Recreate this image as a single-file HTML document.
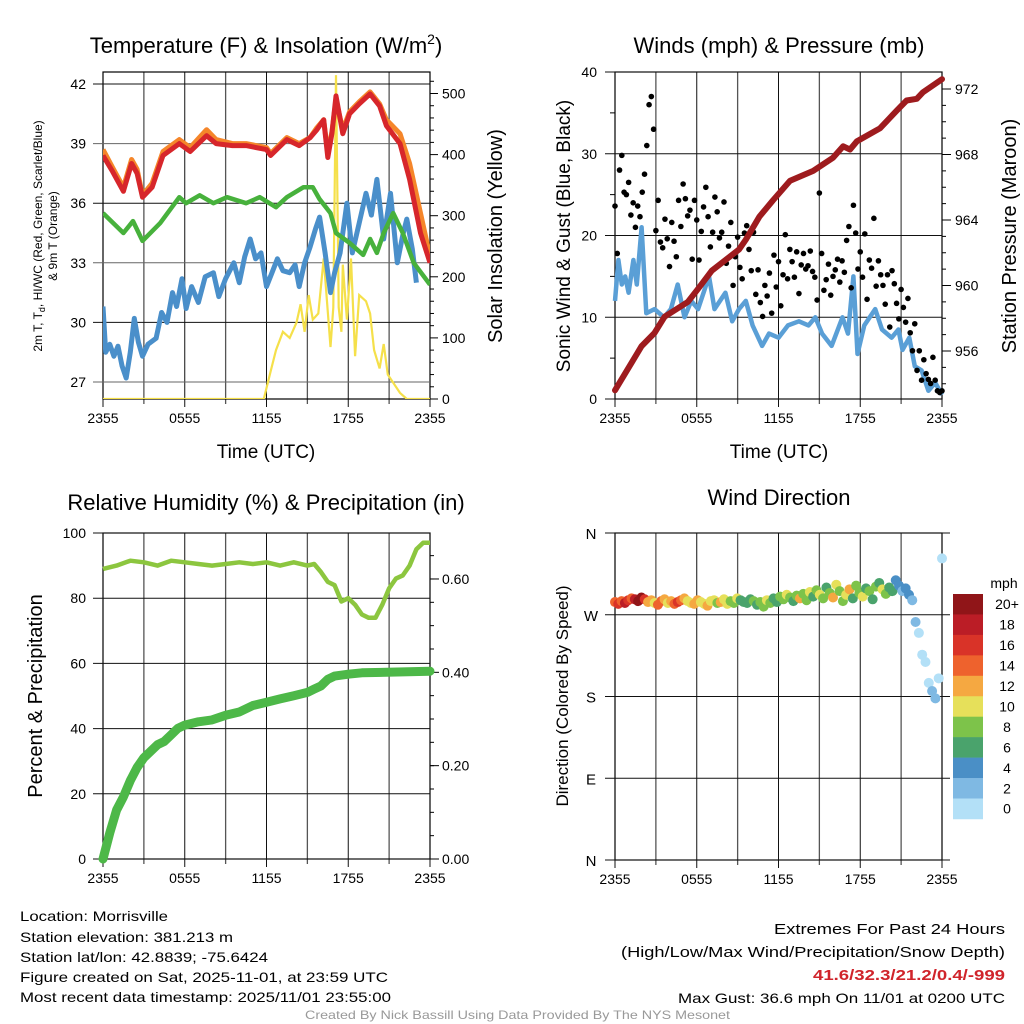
<!DOCTYPE html>
<html><head><meta charset="utf-8"><style>
html,body{margin:0;padding:0;background:#fff;}
svg{display:block;font-family:"Liberation Sans",sans-serif;}
</style></head><body>
<svg id="fig" width="1024" height="1024" viewBox="0 0 1024 1024" xmlns="http://www.w3.org/2000/svg">
<rect width="1024" height="1024" fill="#fff"/>
<!-- Titles -->
<text x="266" y="53" font-size="22" text-anchor="middle">Temperature (F) &amp; Insolation (W/m<tspan font-size="14" dy="-9">2</tspan><tspan dy="9">)</tspan></text>
<text x="779" y="53" font-size="22" text-anchor="middle">Winds (mph) &amp; Pressure (mb)</text>
<text x="266" y="510" font-size="22" text-anchor="middle">Relative Humidity (%) &amp; Precipitation (in)</text>
<text x="779" y="505" font-size="22" text-anchor="middle">Wind Direction</text>
<!-- axis titles -->
<text transform="translate(42,236) rotate(-90)" font-size="12" text-anchor="middle">2m T, T<tspan font-size="9" dy="3">d</tspan><tspan dy="-3">, HI/WC (Red, Green, Scarlet/Blue)</tspan></text>
<text transform="translate(57,236) rotate(-90)" font-size="12" text-anchor="middle">&amp; 9m T (Orange)</text>
<text transform="translate(502,236) rotate(-90)" font-size="20" text-anchor="middle">Solar Insolation (Yellow)</text>
<text x="266" y="458" font-size="19" text-anchor="middle">Time (UTC)</text>
<text transform="translate(570,236) rotate(-90)" font-size="19" text-anchor="middle">Sonic Wind &amp; Gust (Blue, Black)</text>
<text transform="translate(1016,236) rotate(-90)" font-size="20" text-anchor="middle">Station Pressure (Maroon)</text>
<text x="779" y="458" font-size="19" text-anchor="middle">Time (UTC)</text>
<text transform="translate(42,696) rotate(-90)" font-size="20" text-anchor="middle">Percent &amp; Precipitation</text>
<text transform="translate(568,696) rotate(-90)" font-size="17" text-anchor="middle">Direction (Colored By Speed)</text>
<g id="plots"></g>
<!-- footer -->
<g font-size="14">
<text x="20" y="921" textLength="148" lengthAdjust="spacingAndGlyphs">Location: Morrisville</text>
<text x="20" y="942" textLength="213" lengthAdjust="spacingAndGlyphs">Station elevation: 381.213 m</text>
<text x="20" y="962" textLength="248" lengthAdjust="spacingAndGlyphs">Station lat/lon: 42.8839; -75.6424</text>
<text x="20" y="982" textLength="368" lengthAdjust="spacingAndGlyphs">Figure created on Sat, 2025-11-01, at 23:59 UTC</text>
<text x="20" y="1002" textLength="371" lengthAdjust="spacingAndGlyphs">Most recent data timestamp: 2025/11/01 23:55:00</text>
</g>
<g font-size="15">
<text x="774" y="934" textLength="231" lengthAdjust="spacingAndGlyphs">Extremes For Past 24 Hours</text>
<text x="621" y="957" textLength="384" lengthAdjust="spacingAndGlyphs">(High/Low/Max Wind/Precipitation/Snow Depth)</text>
<text x="813" y="980" textLength="192" lengthAdjust="spacingAndGlyphs" fill="#d0242b" font-weight="bold">41.6/32.3/21.2/0.4/-999</text>
<text x="678" y="1003" font-size="14" textLength="327" lengthAdjust="spacingAndGlyphs">Max Gust: 36.6 mph On 11/01 at 0200 UTC</text>
</g>
<text x="305" y="1019" font-size="12" fill="#999" textLength="425" lengthAdjust="spacingAndGlyphs">Created By Nick Bassill Using Data Provided By The NYS Mesonet</text>
</svg>
<script>
// ---- data ----
const timeLabels=["2355","0555","1155","1755","2355"];
const tempTicks=[27,30,33,36,39,42];
const solarTicks=[0,100,200,300,400,500];
const windTicks=[0,10,20,30,40];
const pressTicks=[956,960,964,968,972];
const rhTicks=[0,20,40,60,80,100];
const precipTicks=[0,0.2,0.4,0.6];
const dirLabels=["N","E","S","W","N"];
const dirTicks=[0,90,180,270,360];
const speedBins=["0","2","4","6","8","10","12","14","16","18","20+"];
const binColors=["#b3e0f7","#7fb9e3","#4a8fc6","#4aa36c","#7dc34a","#e6e05a","#f5a841","#ee622d","#d93328","#bb1d26","#901518"];

const redT=[0,0.7,1.5,2.1,2.5,2.9,3.6,4.4,5.6,6.4,7.6,8.3,9.5,10.5,12,12.3,13.5,14.4,15.2,15.7,16.2,16.5,16.8,17.1,17.6,18.1,18.8,19.6,20.3,20.8,21.8,22.5,23.3,24];
const redV=[38.4,37.6,36.6,38.0,37.5,36.3,36.8,38.4,39.0,38.6,39.4,39.0,38.9,38.9,38.7,38.4,39.2,38.9,39.3,39.7,40.2,38.3,39.5,41.4,39.5,40.5,41.0,41.5,40.9,39.9,39.0,37.2,34.5,33.0];
const orangeV=[38.7,37.8,36.8,38.2,37.7,36.4,37.0,38.6,39.2,38.8,39.7,39.2,39.0,39.0,38.8,38.5,39.3,39.0,39.3,39.8,40.2,38.5,39.6,41.2,39.7,40.6,41.1,41.6,41.0,40.2,39.5,38.0,35.5,33.3];
const greenT=[0,1.5,2.2,2.9,4.2,5.6,6.1,7.1,8.1,9.1,10.5,11.5,12.7,13.5,14.7,15.4,15.9,16.7,17.1,18.1,19.1,19.6,20.1,20.6,21.3,22,22.8,24];
const greenV=[35.5,34.5,35.1,34.1,35.0,36.3,36.0,36.4,36.0,36.3,36.0,36.3,35.8,36.3,36.8,36.8,36.2,35.5,34.5,34.0,33.4,34.2,33.5,34.5,35.5,34.5,33.0,31.9];
const blueT=[0,0.2,0.5,0.8,1.1,1.4,1.7,2.0,2.3,2.6,2.9,3.3,3.9,4.3,4.7,5.1,5.4,5.8,6.1,6.5,7.0,7.5,8.1,8.5,9.0,9.6,10.0,10.4,10.8,11.2,11.6,12.0,12.4,12.8,13.2,13.7,14.1,14.4,14.8,15.2,15.6,15.9,16.3,16.7,17.0,17.4,17.9,18.3,18.8,19.3,19.7,20.1,20.6,21.1,21.6,22.0,22.3,22.7,23.0];
const blueV=[30.8,28.5,28.9,28.3,28.8,27.8,27.2,28.5,30.2,29.0,28.3,28.9,29.2,30.5,30.0,31.5,30.8,32.2,30.7,31.8,31.0,32.3,32.5,31.3,32.2,33.0,32.0,33.3,34.2,33.2,33.5,31.8,32.5,33.2,32.6,32.5,32.9,31.8,33.0,33.8,34.7,35.3,33.5,31.5,32.5,33.5,36.0,33.5,35.0,36.5,35.4,37.2,34.2,36.5,33.0,34.4,35.2,33.7,32.0];
const solarT=[0,11.8,12.3,12.7,13.2,13.7,14.2,14.5,14.8,15.1,15.4,15.8,16.2,16.7,16.9,17.1,17.3,17.5,17.6,17.9,18.2,18.5,18.8,19.3,19.6,19.9,20.3,20.6,20.9,21.8,22.3,24];
const solarV=[0,0,45,80,110,100,125,155,110,170,130,140,230,85,150,530,150,110,220,130,230,70,170,160,140,80,50,90,40,10,0,0];
const pressT=[0,1.95,2.9,3.65,5.35,6.1,7.1,9.1,9.6,10.6,11.6,12.85,14.55,16.0,16.75,17.25,17.75,19.45,20.7,21.4,22.15,22.6,24];
const pressV=[953.6,956.3,957.1,958.1,959.0,959.8,960.9,962.2,962.8,964.2,965.2,966.4,967.0,967.8,968.5,968.3,968.8,969.6,970.7,971.3,971.4,971.8,972.6];
const windT=[0,0.25,0.5,0.75,1.0,1.35,1.6,1.95,2.3,2.9,3.6,4.1,4.6,5.1,5.6,6.1,6.9,7.3,8.1,8.6,9.1,9.6,10.1,10.8,11.3,12.0,12.7,13.5,14.2,14.7,15.2,15.9,16.7,17.1,17.5,17.8,18.3,19.1,19.6,20.3,20.8,21.1,21.6,22.0,22.5,23.0,23.5,24];
const windV=[12,17,14,15,13,17,14,21,10.5,11,10,11,14,10,12,11,15,11,13,9.5,11,12,9,6.5,8,7.5,9,9.5,9,10,8,6.5,10,8,15,5.5,9,11,8.5,7.5,8.5,6,7.5,4,3.5,1,2,0.5];
const gustV=[23.6,17.8,28,29.8,25.3,25,26.5,22.5,24,21,23.6,22.3,25.3,27.5,31,36,37,33,
20.6,24.3,19.2,18.5,22,19.6,16.2,21.6,19.3,17.4,24.3,21.1,
26.3,24.5,22.4,23.1,17.1,24.3,21.9,17.0,20.5,23.5,25.9,22.3,18.6,20.4,24.7,22.9,19.7,20.4,
24.1,16.6,18.7,21.6,13.9,17.4,19.8,16.1,14.7,20.3,21.2,18.3,
15.7,20.4,12.8,15.8,11.8,10.1,13.9,12.6,15.4,10.5,17.6,13.7,16.8,11.4,15.2,20.1,14.7,18.3,
16.8,14.9,18.0,12.9,16.4,17.8,15.9,16.3,18.1,15.6,14.9,12.1,
25.2,17.8,13.3,14.6,16.5,12.7,15.0,15.8,17.1,14.3,16.9,15.5,
19.4,21.1,13.6,23.7,20.3,15.9,18.0,14.9,20.2,12.2,17.0,16.0,
22.1,13.8,16.9,15.2,13.9,11.6,15.2,8.8,15.7,14.1,11.7,9.8,
13.4,11.2,9.4,12.3,8.1,5.9,9.2,3.5,5.9,2.3,4.8,3.1,
2.4,1.9,5.1,2.3,1.0,0.8,1.0];
const rhT=[0,1,2,3,4,5,6,7,8,9,10,11,12,13,14,15,15.5,16,16.5,17,17.5,18,18.5,19,19.5,20,20.5,21,21.5,22,22.5,23,23.5,24];
const rhV=[89,90,91.5,91,90,91.5,91,90.5,90,90.5,91,90.5,91,90,91,90,90.5,88,85,84,79,80,78,75,74,74,78,83,86,87,90,95,97,97];
const precipT=[0,0.5,1,1.5,2,2.5,3,3.5,4,4.5,5,5.5,6,7,8,9,10,11,12,13,14,15,15.5,16,16.5,17,18,19,24];
const precipV=[0,0.056,0.105,0.133,0.168,0.196,0.217,0.231,0.245,0.252,0.266,0.28,0.287,0.294,0.298,0.308,0.315,0.329,0.336,0.343,0.35,0.357,0.364,0.371,0.385,0.392,0.396,0.399,0.4025];
const dirV=[284,282,285,283,286,288,287,285,289,287,284,286,283,281,285,287,283,285,282,284,286,288,285,283,282,286,284,282,280,285,286,283,284,287,282,285,283,288,286,284,
283,287,285,281,284,279,286,283,288,284,290,287,292,289,285,291,288,293,286,295,290,297,292,288,300,294,289,303,
296,285,292,298,288,302,294,290,299,296,287,301,305,298,293,300,296,
308,302,296,299,292,286,
262,250,226,218,195,186,178,200,332];
const speedV=[14,16,15,18,17,15,19,21,20,16,12,13,11,15,14,12,10,13,15,16,14,12,11,10,12,13,10,11,12,11,10,9,12,10,11,8,9,10,7,6,
7,6,9,7,8,9,10,8,7,6,9,8,10,9,7,8,12,9,8,10,7,9,11,8,7,9,12,10,
8,9,10,13,7,8,9,11,7,8,6,9,7,10,8,6,7,
5,4,3,4,5,3,
2,1,1,1,1,2,2,1,1];

// ---- helpers ----
const NS="http://www.w3.org/2000/svg";
const root=document.getElementById('plots');
function mk(tag,attrs,parent){const e=document.createElementNS(NS,tag);for(const k in attrs)e.setAttribute(k,attrs[k]);(parent||root).appendChild(e);return e;}
function txt(s,x,y,size,anchor,parent){const e=mk('text',{x:x,y:y,'font-size':size,'text-anchor':anchor||'middle'},parent);e.textContent=s;return e;}
const L=103,R=430,L2=615,R2=942;
const XL=t=>L+t*(R-L)/24, XR=t=>L2+t*(R2-L2)/24;
const TY=v=>84+(42-v)*298/15;
const SY=w=>399-w*0.611;
const WY=m=>399-m*8.175;
const PY=mb=>89+(972-mb)*16.375;
const RY=p=>859-p*3.26;
const QY=i=>859-i*466.7;
const DY=d=>860-d*327/360;
function pts(ts,vs,fx,fy){return ts.map((t,i)=>fx(t).toFixed(1)+','+fy(vs[i]).toFixed(1)).join(' ');}

function frame(x0,x1,y0,y1,name){
  const g=mk('g',{});
  
  
  for(let k=0;k<=8;k++){const x=x0+k*(x1-x0)/8;
    mk('line',{x1:x,y1:y0,x2:x,y2:y1+ (k%2==0?8:5),stroke:k%2?'#555':'#111','stroke-width':k%2?1.3:1},g);}
  mk('rect',{x:x0,y:y0,width:x1-x0,height:y1-y0,fill:'none',stroke:'#000','stroke-width':1.2},g);
  timeLabels.forEach((s,k)=>txt(s,x0+k*(x1-x0)/4,y1+24,14,'middle',g));
  return g;
}

// ---- Temperature panel ----
(function(){
  const g=frame(L,R,72,399,'temperature-plot');
  tempTicks.forEach(v=>{const y=TY(v);mk('line',{x1:L-10,y1:y,x2:R,y2:y,stroke:v%2? '#666':'#111','stroke-width':1},g);txt(String(v),86,y+5,14,'end',g);});
  solarTicks.forEach(v=>{const y=SY(v);mk('line',{x1:R,y1:y,x2:R+8,y2:y,stroke:'#000'},g);txt(String(v),442,y+5,14,'start',g);});
  for(let v=20;v<540;v+=20){if(v%100){const y=SY(v);mk('line',{x1:R,y1:y,x2:R+4,y2:y,stroke:'#000'},g);}}
  const c=mk('g',{'clip-path':'url(#c1)'});
  const s=mk('polyline',{points:pts(solarT,solarV,XL,SY),fill:'none',stroke:'#f5e04a','stroke-width':2.2},c);
  
  
  const b=mk('polyline',{points:pts(blueT,blueV,XL,TY),fill:'none',stroke:'#4a8fca','stroke-width':5,'stroke-linejoin':'round'},c);
  
  
  const gr=mk('polyline',{points:pts(greenT,greenV,XL,TY),fill:'none',stroke:'#47b13c','stroke-width':4.5,'stroke-linejoin':'round'},c);
  
  
  const o=mk('polyline',{points:pts(redT,orangeV,XL,TY),fill:'none',stroke:'#f5862a','stroke-width':5,'stroke-linejoin':'round'},c);
  
  
  const r=mk('polyline',{points:pts(redT,redV,XL,TY),fill:'none',stroke:'#d7262b','stroke-width':5,'stroke-linejoin':'round'},c);
  
  
})();

// ---- Wind panel ----
(function(){
  const g=frame(L2,R2,72,399,'wind-plot');
  windTicks.forEach(v=>{const y=WY(v);mk('line',{x1:L2-10,y1:y,x2:R2,y2:y,stroke:'#111','stroke-width':1},g);txt(String(v),597,y+5,14,'end',g);});
  for(let v=5;v<40;v+=10){const y=WY(v);mk('line',{x1:L2-5,y1:y,x2:L2,y2:y,stroke:'#000'},g);}
  pressTicks.forEach(v=>{const y=PY(v);mk('line',{x1:R2,y1:y,x2:R2+9,y2:y,stroke:'#000'},g);txt(String(v),955,y+5,14,'start',g);});
  for(let v=954;v<973;v+=1){if(v%4){const y=PY(v);mk('line',{x1:R2,y1:y,x2:R2+4,y2:y,stroke:'#000'},g);}}
  const c=mk('g',{});
  const w=mk('polyline',{points:pts(windT,windV,XR,WY),fill:'none',stroke:'#5a9fd6','stroke-width':4.5,'stroke-linejoin':'round'},c);
  
  
  gustV.forEach((v,i)=>{const t=i*24/(gustV.length-1);
    const d=mk('circle',{cx:XR(t),cy:WY(v),r:2.8,fill:'#000'},c);
    
    });
  const p=mk('polyline',{points:pts(pressT,pressV,XR,PY),fill:'none',stroke:'#9e1b1e','stroke-width':6,'stroke-linejoin':'round','stroke-linecap':'round'},c);
  
  
})();

// ---- RH/precip panel ----
(function(){
  const g=frame(L,R,533,859,'humidity-plot');
  rhTicks.forEach(v=>{const y=RY(v);mk('line',{x1:L-10,y1:y,x2:R,y2:y,stroke:'#111','stroke-width':1},g);txt(String(v),86,y+5,14,'end',g);});
  precipTicks.forEach(v=>{const y=QY(v);mk('line',{x1:R,y1:y,x2:R+9,y2:y,stroke:'#000'},g);txt(v.toFixed(2),442,y+5,14,'start',g);});
  for(let v=0.05;v<0.69;v+=0.05){const y=QY(v);mk('line',{x1:R,y1:y,x2:R+4,y2:y,stroke:'#000'},g);}
  const rh=mk('polyline',{points:pts(rhT,rhV,XL,RY),fill:'none',stroke:'#8cc63f','stroke-width':4.5,'stroke-linejoin':'round'});
  
  
  const pr=mk('polyline',{points:pts(precipT,precipV,XL,QY),fill:'none',stroke:'#4db848','stroke-width':9,'stroke-linejoin':'round','stroke-linecap':'round'});
  
  
})();

// ---- Direction panel ----
(function(){
  const g=frame(L2,R2,533,860,'direction-plot');
  dirTicks.forEach((v,k)=>{const y=DY(v);mk('line',{x1:L2-10,y1:y,x2:R2+8,y2:y,stroke:'#111','stroke-width':1},g);txt(dirLabels[k],591,y+6,15,'middle',g);});
  const binIndex=s=>Math.min(10,Math.max(0,Math.floor(s/2)));
  dirV.forEach((d,i)=>{const t=i*24/(dirV.length-1);
    const c=mk('circle',{cx:XR(t),cy:DY(d),r:5,fill:binColors[binIndex(speedV[i])]});
    
    });
  const lg=mk('g',{});
  
  
  txt('mph',1004,588,14,'middle',lg);
  const top=594,h=20.45;
  for(let k=0;k<11;k++){const idx=10-k;
    mk('rect',{x:953,y:top+k*h,width:30,height:h+0.3,fill:binColors[idx]},lg);
    txt(speedBins[idx],1007,top+k*h+h/2+5,14,'middle',lg);}
})();

// clip
const defs=mk('defs',{},document.getElementById('fig'));
const cp=mk('clipPath',{id:'c1'},defs);
mk('rect',{x:L,y:72,width:R-L,height:327},cp);
</script>
</body></html>
